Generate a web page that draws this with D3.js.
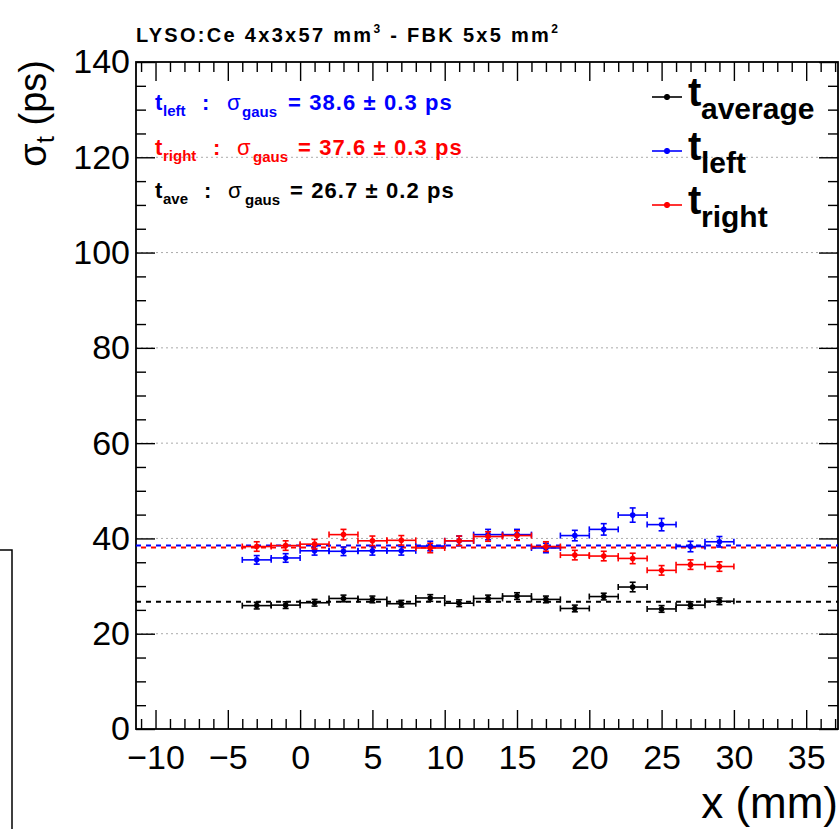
<!DOCTYPE html>
<html><head><meta charset="utf-8">
<script src="https://cdn.jsdelivr.net/npm/d3@7"></script>
<style>
body{margin:0;background:#fff}
svg{display:block}
text{font-family:"Liberation Sans",Arial,Helvetica,sans-serif}
</style>
</head><body>
<svg id="c" width="840" height="829"></svg>
<script>
// ---------------- data ----------------
const positions = [-3,-1,1,3,5,7,9,11,13,15,17,19,21,23,25,27,29]; // x (mm), bin centres
const binHalfWidth = 1;
const tLeft    = [35.5,35.9,37.4,37.3,37.4,37.4,38.4,39.5,40.8,40.8,38.0,40.6,41.9,44.9,42.9,38.3,39.3];
const tLeftErr = [0.9,0.9,0.9,0.9,0.9,0.9,1.0,1.0,1.1,1.1,1.0,1.1,1.2,1.5,1.3,1.1,1.1];
const tRight    = [38.3,38.5,38.8,40.8,39.5,39.6,38.0,39.5,40.4,40.6,38.3,36.5,36.3,35.8,33.3,34.5,34.1];
const tRightErr = [1.0,1.0,1.0,1.1,1.0,1.0,1.0,1.0,1.0,1.0,1.0,1.0,1.0,1.1,1.0,1.0,1.0];
const tAverage    = [25.9,26.0,26.5,27.4,27.2,26.3,27.5,26.4,27.4,27.9,27.2,25.3,27.8,29.8,25.2,26.0,26.8];
const tAverageErr = [0.7,0.7,0.7,0.7,0.7,0.7,0.7,0.7,0.7,0.7,0.7,0.7,0.7,1.0,0.7,0.7,0.7];
const fitLeft = 38.5, fitRight = 38.1, fitAverage = 26.7;
const xMajorTicks = [-10,-5,0,5,10,15,20,25,30,35];
const yMajorTicks = [0,20,40,60,80,100,120,140];
const yGridTicks = [20,40,60,80,100,120];
const titleParts = ["LYSO:Ce 4x3x57 mm","3"," - FBK 5x5 mm","2"];
const annotations = [
  {sub:"left",  value:"38.6", err:"0.3", color:"#0000ff"},
  {sub:"right", value:"37.6", err:"0.3", color:"#ff0000"},
  {sub:"ave",   value:"26.7", err:"0.2", color:"#000000"}
];
const legendEntries = [
  {sub:"average", color:"#000000"},
  {sub:"left",    color:"#0000ff"},
  {sub:"right",   color:"#ff0000"}
];

// ---------------- layout ----------------
const svg = d3.select("#c");
const m = {left:136, right:838, top:62, bottom:729};
const x = d3.scaleLinear().domain([-11.35, 37.2]).range([m.left, m.right]);
const y = d3.scaleLinear().domain([0, 140]).range([m.bottom, m.top]);

// remnant of neighbouring pad
svg.append("path").attr("d","M0,550H12V829").attr("fill","none").attr("stroke","#000").attr("stroke-width",1.5);

// grid
svg.append("g").selectAll("line").data(yGridTicks).join("line")
  .attr("x1",m.left).attr("x2",m.right).attr("y1",d=>y(d)).attr("y2",d=>y(d))
  .attr("stroke","#aaa").attr("stroke-width",1).attr("stroke-dasharray","2,3");

// axes helpers
const xMinor = d3.range(-11,38,1).filter(v=>!xMajorTicks.includes(v));
const yMinor = d3.range(0,141,5).filter(v=>!yMajorTicks.includes(v));
function styleAxis(g){ g.select(".domain").remove(); g.selectAll("line").attr("stroke","#000").attr("stroke-width",1.4); }

// bottom
svg.append("g").attr("transform",`translate(0,${m.bottom})`)
  .call(d3.axisBottom(x).tickValues(xMajorTicks).tickSize(-19).tickPadding(16)
        .tickFormat(d=> d<0 ? "\u2212"+Math.abs(d) : d))
  .call(styleAxis)
  .call(g=>g.selectAll("text").attr("font-size",34).attr("fill","#000"));
svg.append("g").attr("transform",`translate(0,${m.bottom})`)
  .call(d3.axisBottom(x).tickValues(xMinor).tickSize(-10).tickFormat(""))
  .call(styleAxis);
// top
svg.append("g").attr("transform",`translate(0,${m.top})`)
  .call(d3.axisTop(x).tickValues(xMajorTicks).tickSize(-19).tickFormat("")).call(styleAxis);
svg.append("g").attr("transform",`translate(0,${m.top})`)
  .call(d3.axisTop(x).tickValues(xMinor).tickSize(-10).tickFormat("")).call(styleAxis);
// left
svg.append("g").attr("transform",`translate(${m.left},0)`)
  .call(d3.axisLeft(y).tickValues(yMajorTicks).tickSize(-19).tickPadding(6))
  .call(styleAxis)
  .call(g=>g.selectAll("text").attr("font-size",34).attr("fill","#000"));
svg.append("g").attr("transform",`translate(${m.left},0)`)
  .call(d3.axisLeft(y).tickValues(yMinor).tickSize(-10).tickFormat("")).call(styleAxis);
// right
svg.append("g").attr("transform",`translate(${m.right},0)`)
  .call(d3.axisRight(y).tickValues(yMajorTicks).tickSize(-19).tickFormat("")).call(styleAxis);
svg.append("g").attr("transform",`translate(${m.right},0)`)
  .call(d3.axisRight(y).tickValues(yMinor).tickSize(-10).tickFormat("")).call(styleAxis);

// frame
svg.append("rect").attr("x",m.left).attr("y",m.top).attr("width",m.right-m.left).attr("height",m.bottom-m.top)
  .attr("fill","none").attr("stroke","#000").attr("stroke-width",1.8);

// fit lines
const fits = [{v:fitAverage,c:"#000",off:0},{v:fitLeft,c:"#0000ff",off:0},{v:fitRight,c:"#ff0000",off:5}];
svg.append("g").selectAll("line").data(fits).join("line")
  .attr("x1",m.left).attr("x2",m.right).attr("y1",d=>y(d.v)).attr("y2",d=>y(d.v))
  .attr("stroke",d=>d.c).attr("stroke-width",2).attr("stroke-dasharray","5,5")
  .attr("stroke-dashoffset",d=>d.off);

// series
function drawSeries(vals, errs, color){
  const g = svg.append("g").attr("stroke",color).attr("fill",color).attr("stroke-width",1.6);
  const pts = positions.map((p,i)=>({p, v:vals[i], e:errs[i]}));
  const cap = 3;
  pts.forEach(d=>{
    const cx = x(d.p), cy = y(d.v), xl = x(d.p-binHalfWidth), xr = x(d.p+binHalfWidth);
    const yt = y(d.v+d.e), yb = y(d.v-d.e);
    g.append("line").attr("x1",xl).attr("x2",xr).attr("y1",cy).attr("y2",cy);
    g.append("line").attr("x1",xl).attr("x2",xl).attr("y1",cy-cap).attr("y2",cy+cap);
    g.append("line").attr("x1",xr).attr("x2",xr).attr("y1",cy-cap).attr("y2",cy+cap);
    g.append("line").attr("x1",cx).attr("x2",cx).attr("y1",yt).attr("y2",yb);
    g.append("line").attr("x1",cx-cap).attr("x2",cx+cap).attr("y1",yt).attr("y2",yt);
    g.append("line").attr("x1",cx-cap).attr("x2",cx+cap).attr("y1",yb).attr("y2",yb);
    g.append("circle").attr("cx",cx).attr("cy",cy).attr("r",2.8).attr("stroke","none");
  });
}
drawSeries(tAverage, tAverageErr, "#000000");
drawSeries(tLeft, tLeftErr, "#0000ff");
drawSeries(tRight, tRightErr, "#ff0000");

// title
const title = svg.append("text").attr("x",136).attr("y",42).attr("font-size",20).attr("font-weight","bold")
  .attr("letter-spacing",2.3).attr("fill","#000");
title.append("tspan").text(titleParts[0]);
title.append("tspan").attr("dy",-9).attr("font-size",12).text(titleParts[1]);
title.append("tspan").attr("dy",9).text(titleParts[2]);
title.append("tspan").attr("dy",-9).attr("font-size",12).text(titleParts[3]);

// axis titles
svg.append("text").attr("text-anchor","end").attr("x",838).attr("y",818).attr("font-size",44).attr("fill","#000").text("x (mm)");
const yt = svg.append("text").attr("text-anchor","end").attr("transform","translate(46,60) rotate(-90)")
  .attr("font-size",38).attr("fill","#000");
yt.append("tspan").text("σ");
yt.append("tspan").attr("dy",8).attr("font-size",26).text("t");
yt.append("tspan").attr("dy",-8).text(" (ps)");

// annotations
const rowY = [110,155,198];
const segX = [
  {t:155,s:163,c:202,sig:227,g:242,eq:288},
  {t:155,s:163,c:213,sig:237,g:253,eq:298},
  {t:155,s:163,c:204,sig:228,g:245,eq:290}
];
annotations.forEach((a,i)=>{
  const g = svg.append("g").attr("fill",a.color).attr("font-weight","bold");
  const by = rowY[i], sx = segX[i];
  g.append("text").attr("x",sx.t).attr("y",by).attr("font-size",22).text("t");
  g.append("text").attr("x",sx.s).attr("y",by+6).attr("font-size",15).text(a.sub);
  g.append("text").attr("x",sx.c).attr("y",by).attr("font-size",22).text(":");
  g.append("text").attr("x",sx.sig).attr("y",by).attr("font-size",22).attr("font-weight","normal").text("σ");
  g.append("text").attr("x",sx.g).attr("y",by+7).attr("font-size",15).text("gaus");
  g.append("text").attr("x",sx.eq).attr("y",by).attr("font-size",22).attr("letter-spacing",1.1).text(`= ${a.value} ± ${a.err} ps`);
});

// legend
const legY = [97,151,205];
legendEntries.forEach((e,i)=>{
  const ly = legY[i];
  const g = svg.append("g");
  g.append("line").attr("x1",652).attr("x2",682).attr("y1",ly).attr("y2",ly).attr("stroke",e.color).attr("stroke-width",1.6);
  g.append("line").attr("x1",667).attr("x2",667).attr("y1",ly-3).attr("y2",ly+3).attr("stroke",e.color).attr("stroke-width",1.6);
  g.append("circle").attr("cx",667).attr("cy",ly).attr("r",3).attr("fill",e.color);
  g.append("text").attr("x",688).attr("y",ly+9).attr("font-size",40).attr("font-weight","bold").attr("fill","#000").text("t");
  g.append("text").attr("x",701).attr("y",ly+22).attr("font-size",30).attr("font-weight","bold").attr("fill","#000").text(e.sub);
});
</script>
</body></html>
